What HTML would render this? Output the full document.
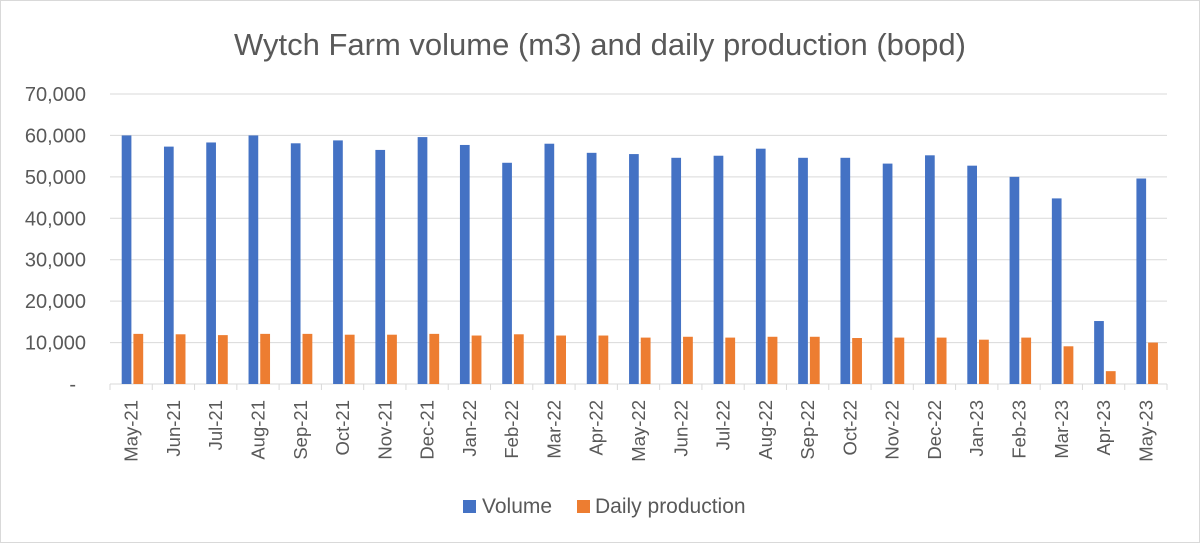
<!DOCTYPE html>
<html><head><meta charset="utf-8"><style>
html,body{margin:0;padding:0;background:#fff}
svg{display:block;font-family:"Liberation Sans",sans-serif}
</style></head><body>
<svg width="1200" height="543" viewBox="0 0 1200 543">
<rect x="0.5" y="0.5" width="1199" height="542" fill="#fff" stroke="#d9d9d9"/>
<text x="600" y="55" text-anchor="middle" font-size="31" fill="#595959">Wytch Farm volume (m3) and daily production (bopd)</text>
<g id="g"></g>
</svg>
<script>
var vol=[60000,57300,58300,60000,58100,58800,56500,59600,57700,53400,58000,55800,55500,54600,55100,56800,54600,54600,53200,55200,52700,50000,44800,15200,49600];
var dp=[12100,12000,11800,12100,12100,11900,11900,12100,11700,12000,11700,11700,11200,11400,11200,11400,11400,11100,11200,11200,10700,11200,9100,3100,10000];
var lab=["May-21","Jun-21","Jul-21","Aug-21","Sep-21","Oct-21","Nov-21","Dec-21","Jan-22","Feb-22","Mar-22","Apr-22","May-22","Jun-22","Jul-22","Aug-22","Sep-22","Oct-22","Nov-22","Dec-22","Jan-23","Feb-23","Mar-23","Apr-23","May-23"];
var s='',y0=384,k=290/70000,L=110,R=1167,w=(R-L)/25;
var yl=["-","10,000","20,000","30,000","40,000","50,000","60,000","70,000"];
for(var i=0;i<8;i++){var y=y0-i*10000*k;
 if(i>0)s+='<line x1="'+L+'" x2="'+R+'" y1="'+y+'" y2="'+y+'" stroke="#d9d9d9"/>';
 s+='<text x="'+(i==0?76:86)+'" y="'+(y+7)+'" text-anchor="end" font-size="20" fill="#595959">'+yl[i]+'</text>';}
s+='<line x1="'+L+'" x2="'+R+'" y1="'+y0+'" y2="'+y0+'" stroke="#d9d9d9"/>';
for(var i=0;i<25;i++){var x=L+i*w;
 s+='<line x1="'+x+'" x2="'+x+'" y1="'+y0+'" y2="'+(y0+6)+'" stroke="#d9d9d9"/>';
 s+='<rect x="'+(x+11.7)+'" y="'+(y0-vol[i]*k)+'" width="9.7" height="'+(vol[i]*k)+'" fill="#4472c4"/>';
 s+='<rect x="'+(x+23.4)+'" y="'+(y0-dp[i]*k)+'" width="9.8" height="'+(dp[i]*k)+'" fill="#ed7d31"/>';
 var cx=x+w/2+6.5;
 s+='<text transform="translate('+cx+',400) rotate(-90)" text-anchor="end" font-size="18.5" fill="#595959">'+lab[i]+'</text>';}
s+='<line x1="'+R+'" x2="'+R+'" y1="'+y0+'" y2="'+(y0+6)+'" stroke="#d9d9d9"/>';
s+='<rect x="463" y="500" width="13" height="13" fill="#4472c4"/><text x="482" y="513" font-size="21" fill="#595959">Volume</text>';
s+='<rect x="577" y="500" width="13" height="13" fill="#ed7d31"/><text x="595" y="513" font-size="21" fill="#595959">Daily production</text>';
document.getElementById('g').innerHTML=s;
</script>
</body></html>
